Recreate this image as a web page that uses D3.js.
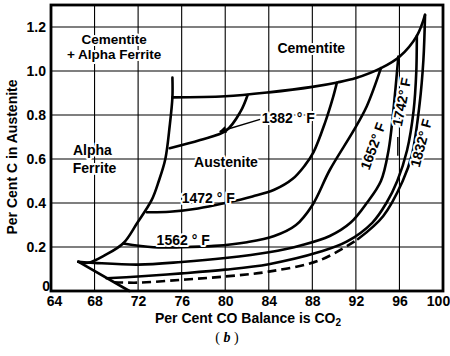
<!DOCTYPE html>
<html><head><meta charset="utf-8">
<script src="https://cdn.jsdelivr.net/npm/d3@7"></script>
<style>
body{margin:0;background:#fff;}
svg{display:block;font-family:"Liberation Sans",Arial,sans-serif;font-weight:bold;}
</style></head><body>
<svg id="chart" width="450" height="356"></svg>
<script>
// axis ticks
const xTicks = [64, 68, 72, 76, 80, 84, 88, 92, 96, 100];
const yTicks = [0, 0.2, 0.4, 0.6, 0.8, 1.0, 1.2];
const yTickLabels = ["0", "0.2", "0.4", "0.6", "0.8", "1.0", "1.2"];

// phase boundaries (% CO, % C)
const cementiteBoundary = [[75.15,0.88],[80,0.885],[84,0.903],[88,0.928],[90.3,0.948],[92,0.968],[94.3,1.013],[96,1.065],[97.6,1.16],[98.35,1.255]];
const ferriteBoundary = [[66.5,0.133],[67.4,0.128],[69,0.164],[70.64,0.217],[71.9,0.308],[73.25,0.414],[73.9,0.5],[74.5,0.6],[74.9,0.75],[75.15,0.88],[75.15,0.97]];
const lowerBoundary = [[66.5,0.133],[71.2,0]];

// isotherms
const iso1382 = [[74.9,0.649],[77.7,0.686],[80.1,0.73],[81.4,0.815],[82.05,0.89]];
const iso1472 = [[72.8,0.358],[74.9,0.36],[77.5,0.375],[80,0.4],[82.5,0.43],[84.5,0.46],[86.2,0.51],[87.3,0.57],[88.1,0.63],[89.2,0.77],[89.9,0.88],[90.25,0.946]];
const iso1562 = [[70.64,0.216],[73.4,0.199],[76,0.199],[79,0.205],[82,0.222],[84.5,0.25],[86.5,0.3],[88,0.39],[89.6,0.55],[91.8,0.73],[93.0,0.84],[94.3,1.013]];
const iso1652 = [[66.5,0.133],[68,0.128],[72,0.12],[76,0.132],[80,0.15],[84,0.176],[87,0.208],[89.6,0.25],[91.5,0.31],[93.0,0.4],[94.3,0.5],[95.0,0.64],[95.4,0.8],[95.9,1.066]];
const iso1742 = [[69.1,0.058],[72,0.066],[76,0.08],[80,0.097],[84,0.122],[88.7,0.178],[91.15,0.224],[93.5,0.31],[94.8,0.4],[95.8,0.5],[96.7,0.64],[97.3,0.82],[97.55,1.0],[97.6,1.16]];
const iso1832Low = [[69.8,0.04],[72,0.038],[76,0.051],[80,0.066],[84,0.088],[88.7,0.14],[92.2,0.236]];
const iso1832 = [[92.2,0.236],[94.5,0.34],[96.3,0.5],[97.15,0.62],[97.85,0.85],[98.2,1.05],[98.35,1.255]];

const W = 450, H = 356;
const m = {left: 51, right: 7, top: 5, bottom: 65};
const svg = d3.select("#chart");
const x = d3.scaleLinear().domain([64, 100]).range([m.left, W - m.right]);
const y = d3.scaleLinear().domain([0, 1.3]).range([H - m.bottom, m.top]);

// grid
const grid = svg.append("g").attr("stroke", "#000").attr("stroke-width", 1.1);
grid.selectAll("line.v").data(xTicks.slice(1, -1)).join("line")
  .attr("x1", d => x(d)).attr("x2", d => x(d)).attr("y1", y(0)).attr("y2", y(1.3));
grid.selectAll("line.h").data(yTicks.slice(1)).join("line")
  .attr("x1", x(64)).attr("x2", x(100)).attr("y1", d => y(d)).attr("y2", d => y(d));

// axes (labels only; frame drawn below)
const xAxis = d3.axisBottom(x).tickValues(xTicks).tickSize(0).tickPadding(6);
const gx = svg.append("g").attr("transform", `translate(0,${y(0)})`).call(xAxis);
gx.select(".domain").remove();
gx.selectAll("text").attr("font-size", 14).attr("font-family", "Liberation Sans, Arial, sans-serif")
  .attr("font-weight", "bold").attr("fill", "#000").attr("dy", "0.62em")
  .attr("dx", (d) => d === 64 ? 3 : (d === 100 ? -5 : 0));

const yAxis = d3.axisLeft(y).tickValues(yTicks).tickFormat((d, i) => yTickLabels[i]).tickSize(0).tickPadding(5);
const gy = svg.append("g").attr("transform", `translate(${x(64)},0)`).call(yAxis);
gy.select(".domain").remove();
gy.selectAll("text").attr("font-size", 14).attr("font-family", "Liberation Sans, Arial, sans-serif")
  .attr("font-weight", "bold").attr("fill", "#000")
  .attr("dx", d => d === 0 ? 4 : 0).attr("dy", d => d === 0 ? "-0.05em" : "0.32em");

// frame
svg.append("rect").attr("x", x(64)).attr("y", y(1.3)).attr("width", x(100) - x(64)).attr("height", y(0) - y(1.3))
  .attr("fill", "none").attr("stroke", "#000").attr("stroke-width", 2.8);

// curves
const line = d3.line().x(d => x(d[0])).y(d => y(d[1])).curve(d3.curveCatmullRom.alpha(0.5));
const curves = svg.append("g").attr("fill", "none").attr("stroke", "#000").attr("stroke-width", 2.6)
  .attr("stroke-linecap", "round").attr("stroke-linejoin", "round");
[cementiteBoundary, ferriteBoundary, lowerBoundary, iso1382, iso1472, iso1562, iso1652, iso1742, iso1832]
  .forEach(c => curves.append("path").attr("d", line(c)));
curves.append("path").attr("d", line(iso1832Low)).attr("stroke-dasharray", "9,5").attr("stroke-linecap", "butt");

// labels
const txt = svg.append("g").attr("font-size", 14).attr("fill", "#000")
  .attr("stroke", "#fff").attr("stroke-width", 4).attr("stroke-linejoin", "round").attr("paint-order", "stroke");
const regionLabels = [
  {t: "Cementite", at: [69.8, 1.123], s: 13.5},
  {t: "+ Alpha Ferrite", at: [69.8, 1.054], s: 13.5},
  {t: "Cementite", at: [87.9, 1.082]},
  {t: "Alpha", at: [67.8, 0.618]},
  {t: "Ferrite", at: [68.0, 0.536]},
  {t: "Austenite", at: [80.07, 0.565]},
  {t: "1382 ° F", at: [83.35, 0.764], a: "start"},
  {t: "1472 ° F", at: [76.0, 0.4], a: "start"},
  {t: "1562 ° F", at: [73.7, 0.209], a: "start"}
];
txt.selectAll("text.r").data(regionLabels).join("text")
  .attr("x", d => x(d.at[0])).attr("y", d => y(d.at[1]))
  .attr("font-size", d => d.s || 14)
  .attr("text-anchor", d => d.a || "middle").text(d => d.t);

const rotLabels = [
  {t: "1652° F", at: [93.57, 0.659], r: -70},
  {t: "1742° F", at: [96.2, 0.859], r: -79},
  {t: "1832° F", at: [97.98, 0.673], r: -75}
];
txt.selectAll("text.q").data(rotLabels).join("text")
  .attr("transform", d => `translate(${x(d.at[0])},${y(d.at[1])}) rotate(${d.r})`)
  .attr("text-anchor", "middle").attr("dy", "0.35em").text(d => d.t);

// leader for 1742
svg.append("line").attr("x1", x(95.85)).attr("x2", x(95.85)).attr("y1", y(0.7)).attr("y2", y(0.615))
  .attr("stroke", "#000").attr("stroke-width", 1.4);

// arrow for 1382
svg.append("defs").append("marker").attr("id", "ah").attr("viewBox", "0 0 10 10")
  .attr("refX", 9).attr("refY", 5).attr("markerWidth", 9).attr("markerHeight", 7)
  .attr("markerUnits", "userSpaceOnUse").attr("orient", "auto")
  .append("path").attr("d", "M0,0L10,5L0,10z").attr("fill", "#000");
svg.append("line").attr("x1", x(83.2)).attr("y1", y(0.78)).attr("x2", x(79.5)).attr("y2", y(0.725))
  .attr("stroke", "#000").attr("stroke-width", 1.5).attr("marker-end", "url(#ah)");

// axis titles
svg.append("text").attr("x", (x(64) + x(100)) / 2 + 1).attr("y", 323).attr("text-anchor", "middle")
  .attr("font-size", 14).html('Per Cent CO Balance is CO<tspan font-size="10" dy="3">2</tspan>');
svg.append("text").attr("transform", `translate(17,${(y(0) + y(1.3)) / 2 + 9}) rotate(-90)`)
  .attr("text-anchor", "middle").attr("font-size", 14).text("Per Cent C in Austenite");
svg.append("text").attr("x", 227).attr("y", 342).attr("text-anchor", "middle").attr("font-size", 14)
  .attr("font-weight", "normal").attr("font-family", "Liberation Serif, serif")
  .html('( <tspan font-style="italic" font-weight="bold">b</tspan> )');
</script>
</body></html>
